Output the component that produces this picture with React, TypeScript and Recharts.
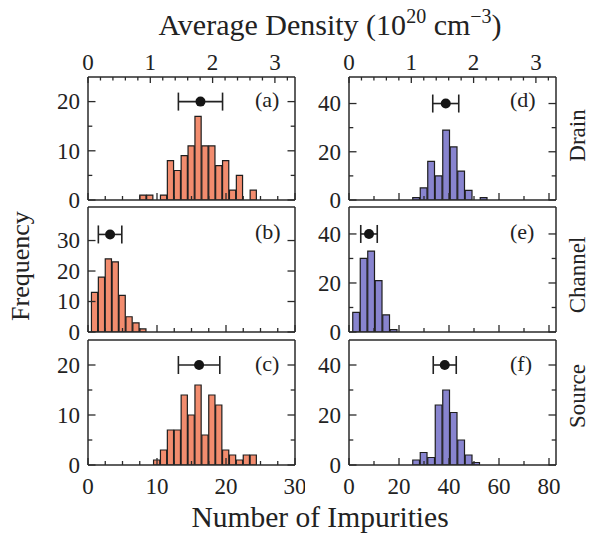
import React from 'react';
import { ComposedChart, Bar, Scatter, ErrorBar, XAxis, YAxis } from 'recharts';

const FONT = "'Liberation Serif', 'Times New Roman', Times, serif";
const INK = '#2a2a2a';
const LEFT_FILL = '#F28C6E';
const RIGHT_FILL = '#8884CF';

// ---- categories (bin centres, number of impurities) ----
const leftBins = [1, 2, 3, 4, 5, 6, 7, 8, 9, 10, 11, 12, 13, 14, 15, 16, 17, 18, 19, 20, 21, 22, 23, 24, 25, 26, 27, 28, 29];
const rightBins = [3, 6, 9, 12, 15, 18, 21, 24, 27, 30, 33, 36, 39, 42, 45, 48, 51, 54, 57, 60, 63, 66, 69, 72, 75, 78, 81];

// ---- series values (frequency) ----
const countsA = [0, 0, 0, 0, 0, 0, 0, 1, 1, 0, 1, 8, 6, 9, 11, 17, 11, 11, 7, 8, 2, 5, 0, 2, 0, 0, 0, 0, 0];
const countsB = [13, 18, 24, 23, 12, 5, 3, 1, 0, 0, 0, 0, 0, 0, 0, 0, 0, 0, 0, 0, 0, 0, 0, 0, 0, 0, 0, 0, 0];
const countsC = [0, 0, 0, 0, 0, 0, 0, 0, 0, 1, 3, 7, 7, 14, 10, 16, 6, 14, 12, 3, 2, 1, 2, 2, 0, 0, 0, 0, 0];
const countsD = [0, 0, 0, 0, 0, 0, 0, 0, 1, 5, 16, 10, 29, 22, 12, 4, 0, 1, 0, 0, 0, 0, 0, 0, 0, 0, 0];
const countsE = [8, 30, 33, 21, 7, 1, 0, 0, 0, 0, 0, 0, 0, 0, 0, 0, 0, 0, 0, 0, 0, 0, 0, 0, 0, 0, 0];
const countsF = [0, 0, 0, 0, 0, 0, 0, 0, 2, 5, 3, 24, 30, 21, 10, 4, 1, 0, 0, 0, 0, 0, 0, 0, 0, 0, 0];

// ---- mean ± spread markers: [mean, spread, height] ----
const statA = [16.3, 3.2, 20];
const statB = [3.2, 1.7, 32];
const statC = [16.1, 3.0, 20];
const statD = [38.7, 5.2, 40];
const statE = [8.0, 3.3, 40];
const statF = [38.3, 4.6, 40];

// ---- tick labels ----
const leftXTicks = [0, 2.5, 5, 7.5, 10, 12.5, 15, 17.5, 20, 22.5, 25, 27.5, 30];
const leftXMajor = [0, 10, 20, 30];
const rightXTicks = [0, 10, 20, 30, 40, 50, 60, 70, 80];
const rightXMajor = [0, 20, 40, 60, 80];
const densityTicks = [0, 0.2, 0.4, 0.6, 0.8, 1, 1.2, 1.4, 1.6, 1.8, 2, 2.2, 2.4, 2.6, 2.8, 3, 3.2];
const densityMajor = [0, 1, 2, 3];
const yTicks25 = [0, 5, 10, 15, 20];
const yMajor25 = [0, 10, 20];
const yTicks41 = [0, 10, 20, 30];
const yMajor41 = [0, 10, 20, 30];
const yTicks50 = [0, 10, 20, 30, 40];
const yMajor50 = [0, 20, 40];

const has = (arr: number[], v: number) => arr.some((m) => Math.abs(m - v) < 1e-6);

const axisLine = { stroke: INK, strokeWidth: 1.5 };
const textStyle = { fontFamily: FONT, fontSize: 23, fill: '#222' };

function xTick(side: 'top' | 'bottom', major: number[], labels: boolean, majLen: number, minLen: number) {
  return (p: any) => {
    const { x, y, payload } = p;
    const v = payload.value;
    const isMaj = has(major, v);
    const len = isMaj ? majLen : minLen;
    const dir = side === 'bottom' ? -1 : 1;
    return (
      <g>
        <line x1={x} x2={x} y1={y} y2={y + dir * len} stroke={INK} strokeWidth={1.3} />
        {labels && isMaj ? (
          <text x={x} y={side === 'bottom' ? y + 29 : y - 7.5} textAnchor="middle" {...textStyle}>
            {String(v)}
          </text>
        ) : null}
      </g>
    );
  };
}

function yTick(side: 'left' | 'right', major: number[], labels: boolean) {
  return (p: any) => {
    const { x, y, payload } = p;
    const v = payload.value;
    const isMaj = has(major, v);
    const len = isMaj ? 7.5 : 4.3;
    const dir = side === 'left' ? 1 : -1;
    return (
      <g>
        <line x1={x} x2={x + dir * len} y1={y} y2={y} stroke={INK} strokeWidth={1.3} />
        {labels && isMaj ? (
          <text x={x - 8} y={y} dy="0.34em" textAnchor="end" {...textStyle}>
            {String(v)}
          </text>
        ) : null}
      </g>
    );
  };
}

const emptyTick = () => <g />;

type PanelProps = {
  left: number;
  top: number;
  w: number;
  h: number;
  bins: number[];
  counts: number[];
  binWidth: number;
  xMax: number;
  xTicks: number[];
  xMajor: number[];
  xLabels: boolean;
  yMax: number;
  yTicks: number[];
  yMajor: number[];
  fill: string;
  stat: number[];
  density: boolean;
};

const ML = 60;
const MT = 40;

function Panel(props: PanelProps) {
  const { left, top, w, h, bins, counts, binWidth, xMax, xTicks, xMajor, xLabels, yMax, yTicks, yMajor, fill, stat, density } = props;
  const data = bins.map((n, i) => ({ n, c: counts[i] }));
  const point = [{ m: stat[0], c: stat[2], e: stat[1] }];
  const pxPerUnit = w / xMax;
  const densMax = w / 62.3;
  const W = w + ML + 10;
  const H = h + MT * 2;
  return (
    <div style={{ position: 'absolute', left: left - ML, top: top - MT, width: W, height: H }}>
      <ComposedChart width={W} height={H} data={data} margin={{ top: MT - 5, bottom: MT - 5, left: ML - 5, right: 5 }}>
        <XAxis
          xAxisId="n"
          dataKey="n"
          type="number"
          orientation="bottom"
          height={5}
          domain={[0, xMax]}
          allowDataOverflow
          ticks={xTicks}
          interval={0}
          tickLine={false}
          tickSize={0}
          tickMargin={0}
          axisLine={axisLine}
          tick={xTick('bottom', xMajor, xLabels, 7, 4)}
        />
        <XAxis xAxisId="s" dataKey="m" type="number" domain={[0, xMax]} allowDataOverflow hide />
        <XAxis
          xAxisId="d"
          dataKey="dens"
          type="number"
          orientation="top"
          height={5}
          domain={[0, densMax]}
          allowDataOverflow
          ticks={density ? densityTicks : [0]}
          interval={0}
          tickLine={false}
          tickSize={0}
          tickMargin={0}
          axisLine={axisLine}
          tick={density ? xTick('top', densityMajor, true, 6, 3.5) : emptyTick}
        />
        <YAxis
          yAxisId="y"
          type="number"
          orientation="left"
          width={5}
          domain={[0, yMax]}
          allowDataOverflow
          ticks={yTicks}
          interval={0}
          tickLine={false}
          tickSize={0}
          tickMargin={0}
          axisLine={axisLine}
          tick={yTick('left', yMajor, true)}
        />
        <YAxis
          yAxisId="yr"
          type="number"
          orientation="right"
          width={5}
          domain={[0, yMax]}
          allowDataOverflow
          ticks={yTicks}
          interval={0}
          tickLine={false}
          tickSize={0}
          tickMargin={0}
          axisLine={axisLine}
          tick={yTick('right', yMajor, false)}
        />
        <Bar
          xAxisId="n"
          yAxisId="y"
          dataKey="c"
          fill={fill}
          stroke="#1e1e1e"
          strokeWidth={1.2}
          barSize={binWidth * pxPerUnit}
          isAnimationActive={false}
        />
        <Scatter
          xAxisId="s"
          yAxisId="y"
          data={point}
          dataKey="c"
          isAnimationActive={false}
          shape={(p: any) => <circle cx={p.cx} cy={p.cy} r={5} fill="#151515" />}
        >
          <ErrorBar dataKey="e" direction="x" width={9} stroke="#222" strokeWidth={1.6} isAnimationActive={false} />
        </Scatter>
      </ComposedChart>
    </div>
  );
}

const LX = 87.5;
const RX = 348.5;
const PW = 207;
const rows = [
  { top: 77, h: 123 },
  { top: 207, h: 125 },
  { top: 340, h: 125 },
];

const letters = [
  { t: '(a)', x: 255, y: 101.7 },
  { t: '(b)', x: 255, y: 233.3 },
  { t: '(c)', x: 255, y: 365.7 },
  { t: '(d)', x: 510, y: 101.7 },
  { t: '(e)', x: 510, y: 233.3 },
  { t: '(f)', x: 510, y: 365.7 },
];

const sideLabels = [
  { t: 'Drain', y: 135.5 },
  { t: 'Channel', y: 275 },
  { t: 'Source', y: 396 },
];

export default function App() {
  const common = { w: PW };
  return (
    <div style={{ position: 'absolute', left: 0, top: 0, width: 590, height: 535, background: '#fff' }}>
      <Panel {...common} left={LX} top={rows[0].top} h={rows[0].h} bins={leftBins} counts={countsA} binWidth={1} xMax={30}
        xTicks={leftXTicks} xMajor={leftXMajor} xLabels={false} yMax={25} yTicks={yTicks25} yMajor={yMajor25}
        fill={LEFT_FILL} stat={statA} density={true} />
      <Panel {...common} left={LX} top={rows[1].top} h={rows[1].h} bins={leftBins} counts={countsB} binWidth={1} xMax={30}
        xTicks={leftXTicks} xMajor={leftXMajor} xLabels={false} yMax={41} yTicks={yTicks41} yMajor={yMajor41}
        fill={LEFT_FILL} stat={statB} density={false} />
      <Panel {...common} left={LX} top={rows[2].top} h={rows[2].h} bins={leftBins} counts={countsC} binWidth={1} xMax={30}
        xTicks={leftXTicks} xMajor={leftXMajor} xLabels={true} yMax={25} yTicks={yTicks25} yMajor={yMajor25}
        fill={LEFT_FILL} stat={statC} density={false} />
      <Panel {...common} left={RX} top={rows[0].top} h={rows[0].h} bins={rightBins} counts={countsD} binWidth={3} xMax={82.8}
        xTicks={rightXTicks} xMajor={rightXMajor} xLabels={false} yMax={51} yTicks={yTicks50} yMajor={yMajor50}
        fill={RIGHT_FILL} stat={statD} density={true} />
      <Panel {...common} left={RX} top={rows[1].top} h={rows[1].h} bins={rightBins} counts={countsE} binWidth={3} xMax={82.8}
        xTicks={rightXTicks} xMajor={rightXMajor} xLabels={false} yMax={51} yTicks={yTicks50} yMajor={yMajor50}
        fill={RIGHT_FILL} stat={statE} density={false} />
      <Panel {...common} left={RX} top={rows[2].top} h={rows[2].h} bins={rightBins} counts={countsF} binWidth={3} xMax={82.8}
        xTicks={rightXTicks} xMajor={rightXMajor} xLabels={true} yMax={50} yTicks={yTicks50} yMajor={yMajor50}
        fill={RIGHT_FILL} stat={statF} density={false} />
      <svg width={590} height={535} style={{ position: 'absolute', left: 0, top: 0, pointerEvents: 'none' }}>
        <text x={330} y={35} textAnchor="middle" fontFamily={FONT} fontSize={30} fill="#222">
          Average Density (10
          <tspan dy={-12} fontSize={20}>20</tspan>
          <tspan dy={12}> cm</tspan>
          <tspan dy={-12} fontSize={20}>−3</tspan>
          <tspan dy={12}>)</tspan>
        </text>
        <text x={320} y={527} textAnchor="middle" fontFamily={FONT} fontSize={29.5} fill="#222">
          Number of Impurities
        </text>
        <text transform="translate(29,266) rotate(-90)" textAnchor="middle" fontFamily={FONT} fontSize={26} fill="#222">
          Frequency
        </text>
        {sideLabels.map((s) => (
          <text key={s.t} transform={`translate(585,${s.y}) rotate(-90)`} textAnchor="middle" fontFamily={FONT} fontSize={23} fill="#222">
            {s.t}
          </text>
        ))}
        {letters.map((l) => (
          <text key={l.t} x={l.x} y={l.y + 5.5} fontFamily={FONT} fontSize={22} fill="#222">
            {l.t}
          </text>
        ))}
      </svg>
    </div>
  );
}
